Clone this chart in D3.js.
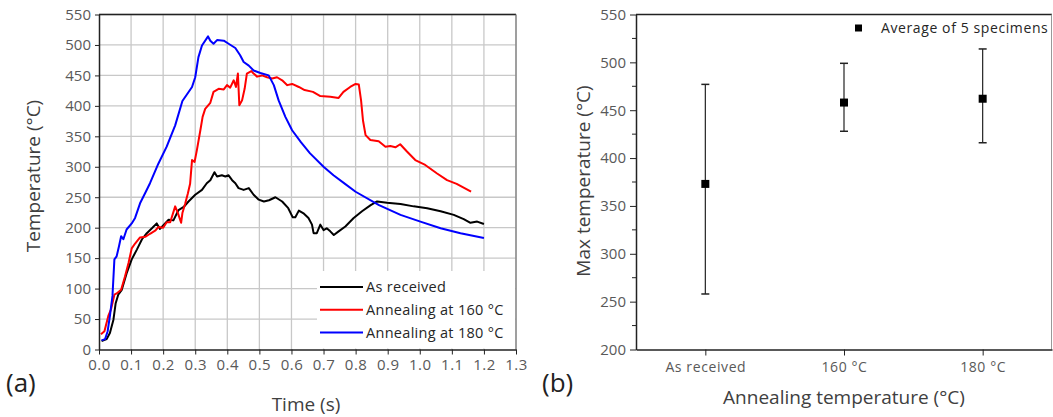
<!DOCTYPE html>
<html>
<head>
<meta charset="utf-8">
<script src="https://cdn.jsdelivr.net/npm/d3@7"></script>
<style>
  html, body { margin: 0; padding: 0; background: #fff; }
  svg { display: block; }
  text { font-family: "Open Sans", "Noto Sans", sans-serif; }
</style>
</head>
<body>
<svg id="chart" width="1053" height="417"></svg>
<script>
// ---------- Data ----------
const seriesNames = ["As received", "Annealing at 160 °C", "Annealing at 180 °C"];
const seriesColors = ["#000000", "#ff0000", "#0000ff"];

const asReceived = [[0.008,14],[0.024,17],[0.034,27],[0.045,49],[0.052,76],[0.06,90],[0.071,98],[0.086,125],[0.102,148],[0.118,164],[0.134,181],[0.149,191],[0.165,199],[0.18,207],[0.19,198],[0.206,207],[0.217,213],[0.232,212],[0.248,229],[0.264,234],[0.279,243],[0.3,254],[0.321,262],[0.336,273],[0.347,278],[0.36,291],[0.368,284],[0.383,286],[0.394,284],[0.404,286],[0.415,278],[0.425,273],[0.435,265],[0.451,262],[0.467,265],[0.482,254],[0.498,246],[0.514,243],[0.53,245],[0.55,250],[0.571,243],[0.59,232],[0.604,217],[0.612,217],[0.623,228],[0.639,223],[0.653,216],[0.664,205],[0.669,191],[0.679,191],[0.69,205],[0.7,196],[0.71,199],[0.721,194],[0.732,188],[0.747,194],[0.768,202],[0.794,216],[0.82,227],[0.847,237],[0.867,243],[0.898,241],[0.94,239],[0.981,235],[1.023,232],[1.065,227],[1.106,221],[1.137,214],[1.158,208],[1.179,210],[1.2,206]];

const anneal160 = [[0.006,25],[0.017,30],[0.029,55],[0.0375,66],[0.048,90],[0.055,92],[0.069,98],[0.081,120],[0.092,142],[0.102,166],[0.1125,174],[0.128,184],[0.144,185],[0.159,190],[0.175,195],[0.185,201],[0.2,200],[0.211,209],[0.222,209],[0.2375,235],[0.246,224],[0.256,208],[0.26,224],[0.269,240],[0.277,256],[0.284,272],[0.29,311],[0.298,308],[0.305,327],[0.316,360],[0.323,382],[0.331,395],[0.347,405],[0.357,423],[0.373,428],[0.389,427],[0.399,434],[0.409,430],[0.42,442],[0.427,431],[0.433,453],[0.4375,401],[0.446,409],[0.454,428],[0.461,453],[0.475,457],[0.482,453],[0.493,448],[0.508,450],[0.524,447],[0.54,445],[0.555,447],[0.571,442],[0.587,434],[0.602,436],[0.623,431],[0.641,426],[0.667,423],[0.69,416],[0.721,415],[0.747,413],[0.762,423],[0.783,431],[0.8,436],[0.81,435],[0.817,409],[0.823,376],[0.831,352],[0.846,344],[0.872,342],[0.893,333],[0.908,334],[0.924,332],[0.939,337],[0.96,325],[0.986,311],[1.017,303],[1.054,289],[1.085,278],[1.115,272],[1.16,259]];

const anneal180 = [[0.008,15],[0.019,17],[0.027,30],[0.034,55],[0.042,88],[0.048,148],[0.055,153],[0.0625,170],[0.069,186],[0.076,181],[0.086,197],[0.102,207],[0.1125,216],[0.128,240],[0.144,257],[0.159,273],[0.185,305],[0.211,333],[0.2375,368],[0.26,408],[0.29,431],[0.3,447],[0.31,480],[0.321,499],[0.34,514],[0.347,507],[0.357,502],[0.368,508],[0.389,507],[0.404,502],[0.425,495],[0.44,483],[0.451,472],[0.467,466],[0.482,458],[0.503,454],[0.529,450],[0.545,434],[0.56,409],[0.581,382],[0.602,360],[0.63,340],[0.658,322],[0.7,300],[0.731,286],[0.767,272],[0.8,259],[0.873,237],[0.94,221],[1.002,210],[1.065,199],[1.127,191],[1.2,183]];

const timeTicks = [0.0,0.1,0.2,0.3,0.4,0.5,0.6,0.7,0.8,0.9,1.0,1.1,1.2,1.3];
const tempTicksA = [0,50,100,150,200,250,300,350,400,450,500,550];

const categories = ["As received", "160 °C", "180 °C"];
const maxTempMean = [373, 458, 462];
const maxTempUpper = [477, 499, 514];
const maxTempLower = [258, 428, 416];
const tempTicksB = [200,250,300,350,400,450,500,550];
const tempMinorB = [225,275,325,375,425,475,525];

// ---------- Drawing ----------
const svg = d3.select("#chart");
const tickColor = "#595959";
const titleColor = "#404040";

// ===== Panel (a) =====
const A = {left: 99, right: 516, top: 14.5, bottom: 349.5};
const xA = d3.scaleLinear().domain([0, 1.3]).range([A.left, A.right]);
const yA = d3.scaleLinear().domain([0, 550]).range([A.bottom, A.top]);
const gA = svg.append("g");

// grid
gA.append("g").selectAll("line").data(timeTicks.slice(1)).join("line")
  .attr("x1", d => xA(d)).attr("x2", d => xA(d)).attr("y1", A.top).attr("y2", A.bottom)
  .attr("stroke", "#c8c8c8").attr("stroke-width", 1.3);
gA.append("g").selectAll("line").data(tempTicksA.slice(1)).join("line")
  .attr("x1", A.left).attr("x2", A.right).attr("y1", d => yA(d)).attr("y2", d => yA(d))
  .attr("stroke", "#c8c8c8").attr("stroke-width", 1.3);

// frame: top and right
gA.append("line").attr("x1", A.left).attr("x2", A.right).attr("y1", A.top).attr("y2", A.top)
  .attr("stroke", "#222").attr("stroke-width", 1.5);
gA.append("line").attr("x1", A.right).attr("x2", A.right).attr("y1", A.top).attr("y2", A.bottom)
  .attr("stroke", "#777").attr("stroke-width", 1.2);

// lines
const lineA = d3.line().x(d => xA(d[0])).y(d => yA(d[1]));
[asReceived, anneal160, anneal180].forEach((s, i) => {
  gA.append("path").datum(s).attr("d", lineA).attr("fill", "none")
    .attr("stroke", seriesColors[i]).attr("stroke-width", 2).attr("stroke-linejoin", "round");
});

// axes
const axA_x = gA.append("g").attr("transform", `translate(0,${A.bottom})`)
  .call(d3.axisBottom(xA).tickValues(timeTicks).tickFormat(d3.format(".1f")).tickSize(5).tickSizeOuter(0));
const axA_y = gA.append("g").attr("transform", `translate(${A.left},0)`)
  .call(d3.axisLeft(yA).tickValues(tempTicksA).tickSize(4).tickSizeOuter(0));
[axA_x, axA_y].forEach(ax => {
  ax.select(".domain").attr("stroke", "#222").attr("stroke-width", 1.5);
  ax.selectAll(".tick line").attr("stroke", "#222");
  ax.selectAll(".tick text").attr("fill", tickColor).attr("font-size", 15)
    .style("font-family", '"Open Sans", sans-serif');
});
axA_x.selectAll(".tick text").attr("dy", "0.9em").attr("y", 7).style("letter-spacing", "0.5px");
axA_y.selectAll(".tick text").attr("x", -8);

// legend
const legA = gA.append("g");
legA.append("rect").attr("x", 317).attr("y", 271).attr("width", A.right - 317 - 1).attr("height", A.bottom - 271 - 1)
  .attr("fill", "#fff");
seriesNames.forEach((n, i) => {
  const yy = 287 + i * 22.8;
  legA.append("line").attr("x1", 320).attr("x2", 363).attr("y1", yy).attr("y2", yy)
    .attr("stroke", seriesColors[i]).attr("stroke-width", 2);
  legA.append("text").attr("x", 366).attr("y", yy).attr("dy", "0.35em")
    .attr("font-size", 14.5).style("letter-spacing", "0.3px").attr("fill", "#262626").text(n);
});

// titles
gA.append("text").attr("transform", `translate(40,176) rotate(-90)`)
  .attr("text-anchor", "middle").attr("font-size", 19).attr("fill", titleColor).text("Temperature (°C)");
gA.append("text").attr("x", 306).attr("y", 411)
  .attr("text-anchor", "middle").attr("font-size", 19).attr("fill", titleColor).text("Time (s)");
gA.append("text").attr("x", 6).attr("y", 392).attr("font-size", 26).attr("fill", "#222").text("(a)");

// ===== Panel (b) =====
const B = {left: 636, right: 1052, top: 14.5, bottom: 349.5};
const xB = d3.scalePoint().domain(categories).range([B.left, B.right]).padding(0.5);
const yB = d3.scaleLinear().domain([200, 550]).range([B.bottom, B.top]);
const gB = svg.append("g");

gB.append("line").attr("x1", B.left).attr("x2", B.right).attr("y1", B.top).attr("y2", B.top)
  .attr("stroke", "#222").attr("stroke-width", 1.5);
gB.append("line").attr("x1", B.right - 0.5).attr("x2", B.right - 0.5).attr("y1", B.top).attr("y2", B.bottom)
  .attr("stroke", "#999").attr("stroke-width", 1);

const axB_y = gB.append("g").attr("transform", `translate(${B.left},0)`)
  .call(d3.axisLeft(yB).tickValues(tempTicksB).tickSize(6).tickSizeOuter(0));
gB.append("g").selectAll("line").data(tempMinorB).join("line")
  .attr("x1", B.left - 4).attr("x2", B.left).attr("y1", d => yB(d)).attr("y2", d => yB(d))
  .attr("stroke", "#222");
const axB_x = gB.append("g").attr("transform", `translate(0,${B.bottom})`)
  .call(d3.axisBottom(xB).tickSize(6).tickSizeOuter(0));
[axB_x, axB_y].forEach(ax => {
  ax.select(".domain").attr("stroke", "#222").attr("stroke-width", 1.5);
  ax.selectAll(".tick line").attr("stroke", "#222");
  ax.selectAll(".tick text").attr("fill", tickColor).style("font-family", '"Open Sans", sans-serif');
});
axB_y.selectAll(".tick text").attr("font-size", 15).attr("x", -10);
axB_x.selectAll(".tick text").attr("font-size", 14).style("letter-spacing", "0.6px").attr("y", 10).attr("dy", "0.9em");

// error bars and markers
const capW = 4;
categories.forEach((c, i) => {
  const cx = xB(c);
  gB.append("line").attr("x1", cx).attr("x2", cx).attr("y1", yB(maxTempUpper[i])).attr("y2", yB(maxTempLower[i]))
    .attr("stroke", "#222").attr("stroke-width", 1.2);
  [maxTempUpper[i], maxTempLower[i]].forEach(v => {
    gB.append("line").attr("x1", cx - capW).attr("x2", cx + capW).attr("y1", yB(v)).attr("y2", yB(v))
      .attr("stroke", "#222").attr("stroke-width", 1.5);
  });
  gB.append("rect").attr("x", cx - 4).attr("y", yB(maxTempMean[i]) - 4).attr("width", 8).attr("height", 8)
    .attr("fill", "#000");
});

// legend (b)
gB.append("rect").attr("x", 855).attr("y", 24.5).attr("width", 7).attr("height", 7).attr("fill", "#000");
gB.append("text").attr("x", 881).attr("y", 28).attr("dy", "0.35em").attr("font-size", 14)
  .style("letter-spacing", "0.6px").attr("fill", "#262626").text("Average of 5 specimens");

// titles (b)
gB.append("text").attr("transform", `translate(590,181) rotate(-90)`)
  .attr("text-anchor", "middle").attr("font-size", 19).attr("fill", titleColor).text("Max temperature (°C)");
gB.append("text").attr("x", 844).attr("y", 404)
  .attr("text-anchor", "middle").attr("font-size", 19).attr("fill", titleColor).text("Annealing temperature (°C)");
gB.append("text").attr("x", 542).attr("y", 392).attr("font-size", 26).attr("fill", "#222").text("(b)");
</script>
</body>
</html>
